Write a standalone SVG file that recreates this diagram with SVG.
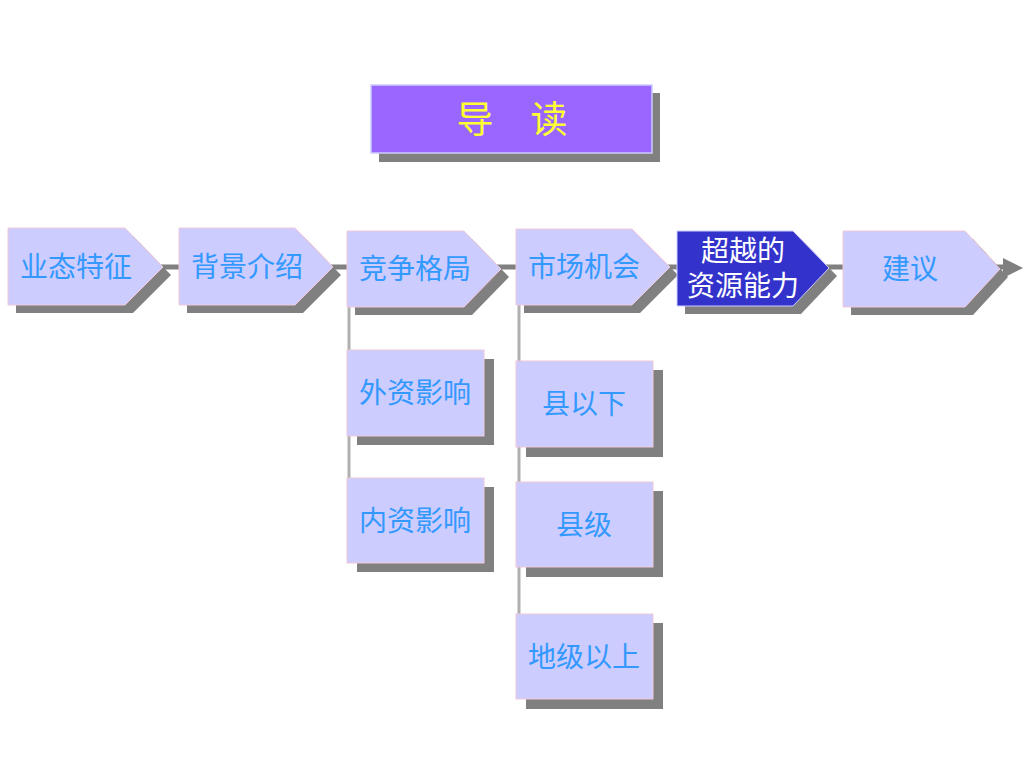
<svg xmlns="http://www.w3.org/2000/svg" width="1024" height="768" viewBox="0 0 1024 768">
<style>
.sh{fill:#808080}
.nd{fill:#CCCCFF;stroke:#F0C8D8;stroke-width:1}
.tx{font-family:"Liberation Sans","Noto Sans CJK SC",sans-serif;font-size:28px;fill:#3399FF;text-anchor:middle;dominant-baseline:central}
.ln{stroke:#808080;stroke-width:5;fill:none}
.vl{stroke:#B0B0B0;stroke-width:3;fill:none}
</style>
<rect width="1024" height="768" fill="#FFFFFF"/>
<g id="connectors">
<line class="ln" x1="150" y1="267" x2="1006" y2="267"/>
<polygon points="1003,258 1023,268 1003,278" fill="#808080"/>
<line class="vl" x1="349" y1="300" x2="349" y2="480"/>
<line class="vl" x1="519" y1="300" x2="519" y2="616"/>
</g>
<g id="title">
<rect class="sh" x="379" y="93" width="281" height="69"/>
<rect x="371" y="85" width="281" height="68" fill="#9966FF" stroke="#CCCCFF" stroke-width="1.5"/>
<text x="512" y="120" font-family="Liberation Sans,'Noto Sans CJK SC',sans-serif" font-size="37" fill="#FFFF33" text-anchor="middle" dominant-baseline="central">导　读</text>
</g>
<g id="n1">
<path class="sh" d="M16,236H133L171,275L133,313H16Z"/>
<path class="nd" d="M8,228H125L163,267L125,305H8Z"/>
<text class="tx" x="76" y="267">业态特征</text>
</g>
<g id="n2">
<path class="sh" d="M187,236H303L341,275L303,313H187Z"/>
<path class="nd" d="M179,228H295L333,267L295,305H179Z"/>
<text class="tx" x="247" y="267">背景介绍</text>
</g>
<g id="n3">
<path class="sh" d="M355,239H472L509,277L472,315H355Z"/>
<path class="nd" d="M347,231H464L501,269L464,307H347Z"/>
<text class="tx" x="415" y="269">竞争格局</text>
</g>
<g id="n4">
<path class="sh" d="M524,237H640L678,275L640,313H524Z"/>
<path class="nd" d="M516,229H632L670,267L632,305H516Z"/>
<text class="tx" x="584" y="267">市场机会</text>
</g>
<g id="n5">
<path class="sh" d="M685,239H801L837,276L801,314H685Z"/>
<path d="M677,231H793L829,268L793,306H677Z" fill="#3333CC" stroke="#CCCCFF" stroke-width="1"/>
<text class="tx" x="743" y="251" style="fill:#FFFFFF">超越的</text>
<text class="tx" x="743" y="286" style="fill:#FFFFFF">资源能力</text>
</g>
<g id="n6">
<path class="sh" d="M851,239H973L1008,277L973,315H851Z"/>
<path class="nd" d="M843,231H965L1000,269L965,307H843Z"/>
<text class="tx" x="910" y="269">建议</text>
</g>
<g id="n7">
<rect class="sh" x="357" y="359" width="137" height="86"/>
<rect class="nd" x="347" y="350" width="137" height="86"/>
<text class="tx" x="415" y="393">外资影响</text>
</g>
<g id="n8">
<rect class="sh" x="357" y="487" width="137" height="85"/>
<rect class="nd" x="347" y="478" width="137" height="85"/>
<text class="tx" x="415" y="521">内资影响</text>
</g>
<g id="n9">
<rect class="sh" x="526" y="370" width="137" height="87"/>
<rect class="nd" x="516" y="361" width="137" height="86"/>
<text class="tx" x="584" y="404">县以下</text>
</g>
<g id="n10">
<rect class="sh" x="526" y="491" width="137" height="86"/>
<rect class="nd" x="516" y="482" width="137" height="85"/>
<text class="tx" x="584" y="525">县级</text>
</g>
<g id="n11">
<rect class="sh" x="526" y="623" width="137" height="86"/>
<rect class="nd" x="516" y="614" width="137" height="85"/>
<text class="tx" x="584" y="657">地级以上</text>
</g>
</svg>
